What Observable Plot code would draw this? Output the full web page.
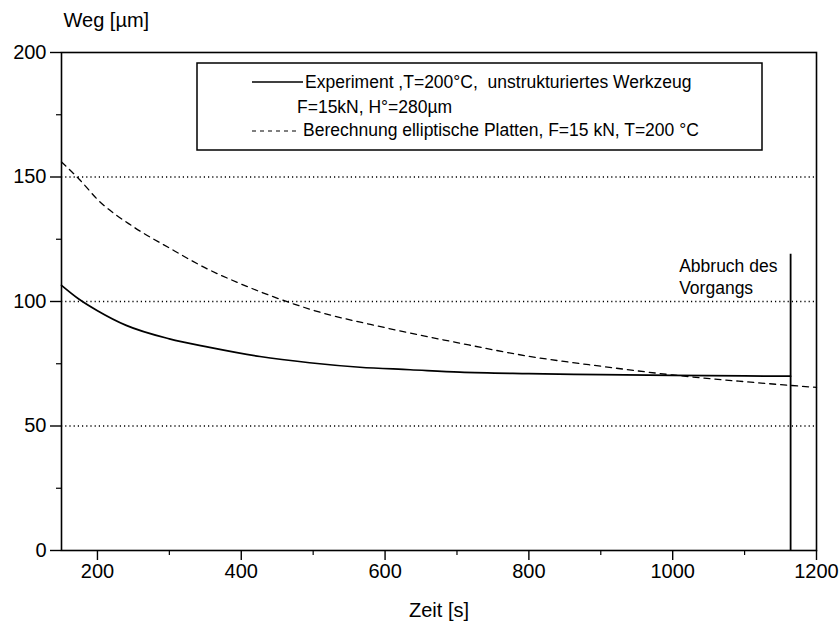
<!DOCTYPE html>
<html>
<head>
<meta charset="utf-8">
<script src="https://cdn.jsdelivr.net/npm/d3@7"></script>
<script src="https://cdn.jsdelivr.net/npm/@observablehq/plot@0.6"></script>
<style>
  html, body { margin: 0; padding: 0; background: #fff; }
  #chart { width: 839px; height: 625px; }
</style>
</head>
<body>
<div id="chart"></div>
<script>
// ---- data ----
const timeExperiment = [150, 175, 200, 240, 300, 356, 426, 495, 565, 635, 704, 800, 900, 1000, 1100, 1164];
const wegExperiment  = [106.5, 100.8, 96.3, 90.4, 85.0, 81.6, 77.9, 75.4, 73.6, 72.6, 71.6, 71.0, 70.6, 70.3, 70.1, 70.0];

const timeBerechnung = [150, 175, 200, 250, 300, 350, 400, 468, 500, 600, 700, 800, 900, 1000, 1100, 1200];
const wegBerechnung  = [156, 149, 141, 130, 121.5, 113.5, 107, 99.5, 96.5, 89.5, 83.5, 78, 74, 70.5, 67.8, 65.5];

const xMajorTicks = [200, 400, 600, 800, 1000, 1200];
const xMinorTicks = [300, 500, 700, 900, 1100];
const yMajorTicks = [0, 50, 100, 150, 200];
const yMinorTicks = [25, 75, 125, 175];
const gridValues  = [50, 100, 150];

const abbruchZeit = [1164];
const abbruchTop = 119;
const abbruchText = "Abbruch des\nVorgangs";

const legendLabels = [
  "Experiment ,T=200°C,  unstrukturiertes Werkzeug",
  "F=15kN, H°=280µm",
  "Berechnung elliptische Platten, F=15 kN, T=200 °C"
];

const experiment = timeExperiment.map((t, i) => ({t, w: wegExperiment[i]}));
const berechnung = timeBerechnung.map((t, i) => ({t, w: wegBerechnung[i]}));

const FONT = "'Liberation Sans', Arial, Helvetica, sans-serif";

const chart = Plot.plot({
  width: 839,
  height: 625,
  marginLeft: 61,
  marginRight: 23,
  marginTop: 52,
  marginBottom: 75,
  style: {fontFamily: FONT, fontSize: "20px", color: "black", background: "white"},
  x: {domain: [150, 1200], label: null},
  y: {domain: [0, 200], label: null},
  marks: [
    Plot.ruleY(gridValues, {stroke: "black", strokeWidth: 1.3, strokeDasharray: "1.2,3"}),
    Plot.line(berechnung, {x: "t", y: "w", stroke: "black", strokeWidth: 1.3, strokeDasharray: "6,5", curve: "monotone-x"}),
    Plot.line(experiment, {x: "t", y: "w", stroke: "black", strokeWidth: 1.7, curve: "monotone-x"}),
    Plot.ruleX(abbruchZeit, {y1: 0, y2: abbruchTop, stroke: "black", strokeWidth: 1.8}),
    Plot.text([abbruchText], {x: 1009, y: 118.5, text: d => d, textAnchor: "start", lineAnchor: "top", lineHeight: 1.3, fontSize: 17.5}),
    Plot.frame({stroke: "black", strokeWidth: 1.6}),
    Plot.axisX({ticks: xMajorTicks, tickSize: 10, tickPadding: 3, fontSize: 20, tickFormat: d3.format("d"), label: null, strokeWidth: 1.4}),
    Plot.axisX({ticks: xMinorTicks, tickSize: 5, tickFormat: () => "", label: null, strokeWidth: 1.2}),
    Plot.axisY({ticks: yMajorTicks, tickSize: 11, tickPadding: 4, fontSize: 20, tickFormat: d3.format("d"), label: null, strokeWidth: 1.4}),
    Plot.axisY({ticks: yMinorTicks, tickSize: 5, tickFormat: () => "", label: null, strokeWidth: 1.2}),
    Plot.text(["Weg [µm]"], {frameAnchor: "top-left", dx: 2, dy: -32, text: d => d, textAnchor: "start", lineAnchor: "middle", fontSize: 20}),
    Plot.text(["Zeit [s]"], {frameAnchor: "bottom", dy: 60, text: d => d, lineAnchor: "middle", fontSize: 20})
  ]
});

document.getElementById("chart").appendChild(chart);

// ---- legend box (overlay in the plot's svg) ----
const svg = d3.select(chart);
const lg = svg.append("g").attr("font-family", FONT).attr("font-size", 17.5)
  .attr("fill", "black").attr("text-anchor", "start");
lg.append("rect").attr("x", 197).attr("y", 63).attr("width", 565).attr("height", 87)
  .attr("fill", "white").attr("stroke", "black").attr("stroke-width", 1.5);
lg.append("line").attr("x1", 252).attr("x2", 303).attr("y1", 82).attr("y2", 82)
  .attr("stroke", "black").attr("stroke-width", 1.6);
lg.append("text").attr("x", 305).attr("y", 82).attr("dy", "0.35em").text(legendLabels[0]);
lg.append("text").attr("x", 297).attr("y", 107).attr("dy", "0.35em").text(legendLabels[1]);
lg.append("line").attr("x1", 252).attr("x2", 298).attr("y1", 131).attr("y2", 131)
  .attr("stroke", "black").attr("stroke-width", 1.2).attr("stroke-dasharray", "4,4");
lg.append("text").attr("x", 303).attr("y", 130).attr("dy", "0.35em").text(legendLabels[2]);
</script>
</body>
</html>
